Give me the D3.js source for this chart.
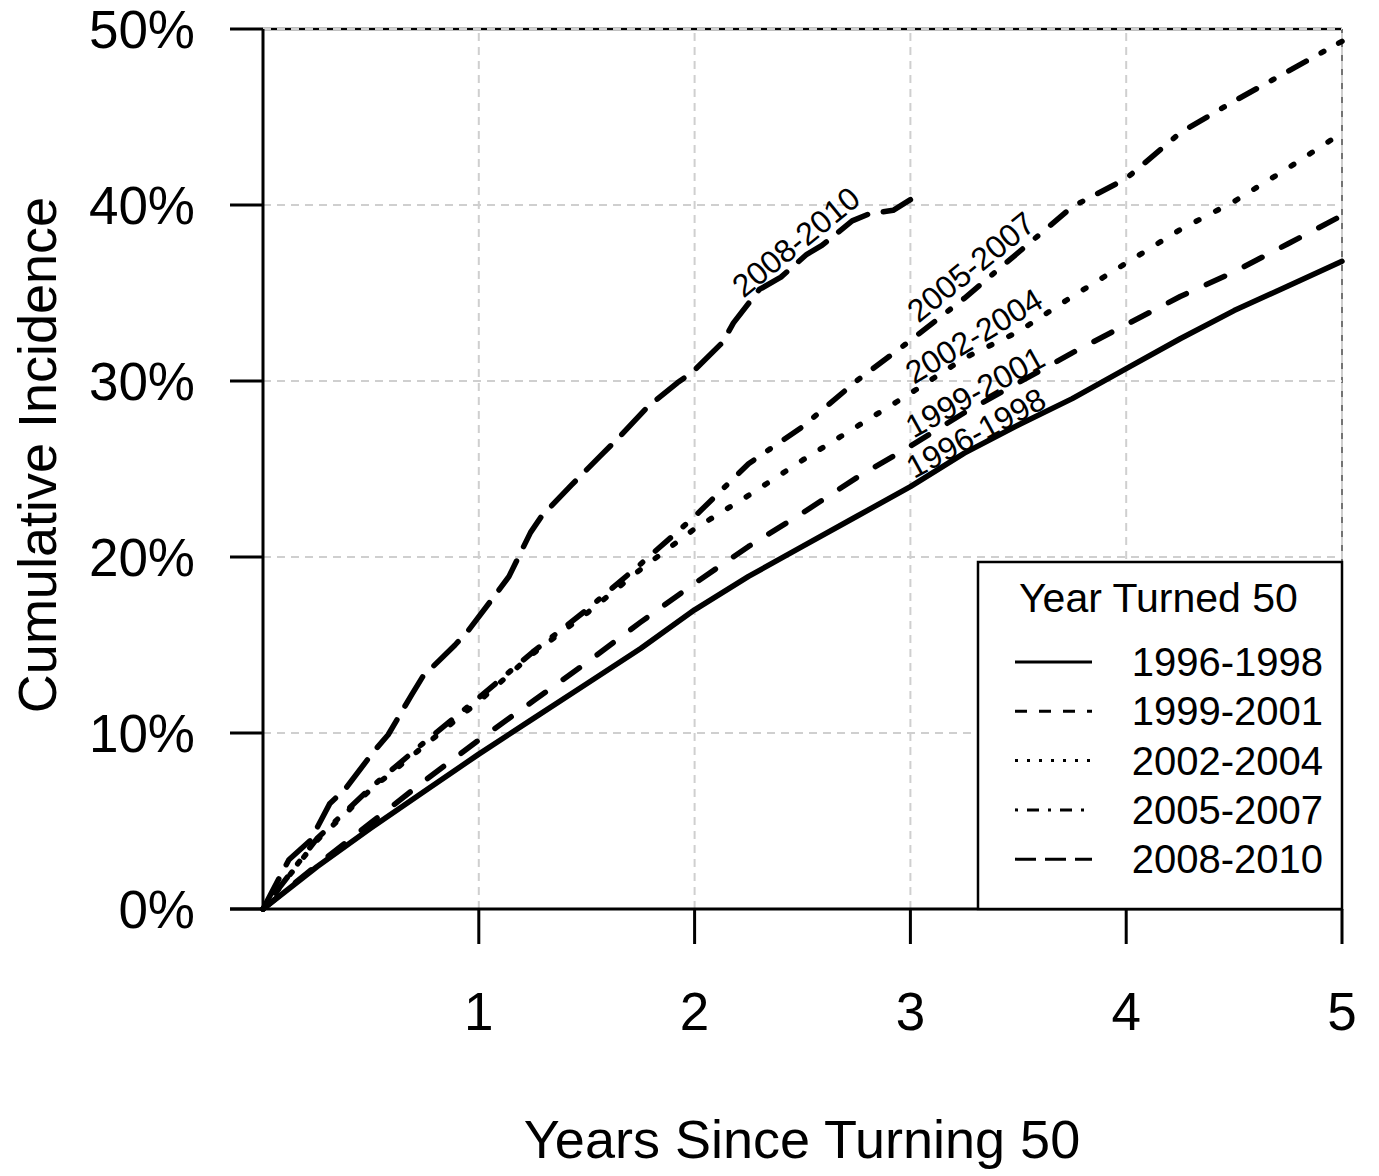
<!DOCTYPE html>
<html>
<head>
<meta charset="utf-8">
<script src="https://cdn.jsdelivr.net/npm/d3@7"></script>
<style>
  body { margin: 0; background: #fff; }
  text { font-family: Arial, "Liberation Sans", sans-serif; fill: #000; }
</style>
</head>
<body>
<div id="chart"></div>
<script>
// data (cumulative incidence, %)
var years = [0, 0.25, 0.5, 0.75, 1, 1.25, 1.5, 1.75, 2, 2.25, 2.5, 2.75, 3, 3.25, 3.5, 3.75, 4, 4.25, 4.5, 4.75, 5];
var inc9698 = [0, 2.4, 4.6, 6.7, 8.8, 10.8, 12.8, 14.8, 17.0, 18.9, 20.6, 22.3, 24.0, 25.9, 27.5, 29.0, 30.7, 32.4, 34.0, 35.4, 36.8];
var inc9901 = [0, 2.5, 4.9, 7.3, 9.6, 11.8, 14.0, 16.3, 18.5, 20.6, 22.5, 24.5, 26.3, 28.2, 29.9, 31.6, 33.2, 34.8, 36.2, 37.8, 39.4];
var inc0204 = [0, 3.9, 6.8, 9.3, 11.8, 14.5, 16.8, 19.3, 21.6, 23.5, 25.5, 27.4, 29.3, 31.3, 32.8, 34.8, 36.7, 38.6, 40.2, 42.1, 44.1];
var inc0507 = [0, 4.0, 6.9, 9.5, 12.0, 14.6, 17.0, 19.6, 22.3, 25.3, 27.4, 30.0, 32.3, 34.7, 37.3, 39.9, 41.5, 44.1, 45.9, 47.6, 49.3];
var years0810 = [0, 0.12, 0.22, 0.31, 0.38, 0.51, 0.58, 0.69, 0.74, 0.89, 0.95, 1.08, 1.14, 1.24, 1.29, 1.43, 1.56, 1.65, 1.78, 1.92, 1.99, 2.13, 2.18, 2.30, 2.40, 2.52, 2.59, 2.73, 2.81, 2.92, 3.0];
var inc0810 = [0, 2.8, 3.9, 6.0, 6.8, 8.9, 9.9, 12.2, 13.2, 15.0, 15.8, 17.9, 18.9, 21.4, 22.3, 24.1, 25.7, 26.8, 28.5, 29.9, 30.5, 32.2, 33.3, 35.2, 35.9, 37.2, 37.7, 39.1, 39.5, 39.7, 40.3];

var cohorts = ["1996-1998", "1999-2001", "2002-2004", "2005-2007", "2008-2010"];
var xTicks = [1, 2, 3, 4, 5];
var yTicks = [0, 10, 20, 30, 40, 50];

var width = 1379;
var height = 1176;

var svg = d3.select("#chart")
    .append("svg")
    .attr("width", width)
    .attr("height", height);

var x = d3.scaleLinear().domain([0, 5]).range([263, 1342]);
var y = d3.scaleLinear().domain([0, 50]).range([909, 29]);

// series table
var series = [
    {name: cohorts[0], xs: years, ys: inc9698, dash: null, legDash: null},
    {name: cohorts[1], xs: years, ys: inc9901, dash: "20,22", legDash: "12,12"},
    {name: cohorts[2], xs: years, ys: inc0204, dash: "3,19", legDash: "3,9"},
    {name: cohorts[3], xs: years, ys: inc0507, dash: "3,17,20,17", legDash: "3,9,12,9"},
    {name: cohorts[4], xs: years0810, ys: inc0810, dash: "34,16", legDash: "21,9"}
];

// grid
var grid = svg.append("g");
grid.append("line")
    .attr("x1", x(0)).attr("x2", x(5))
    .attr("y1", y(50)).attr("y2", y(50))
    .style("stroke", "#000").style("stroke-width", 2.5);
grid.append("line")
    .attr("x1", x(5)).attr("x2", x(5))
    .attr("y1", y(50)).attr("y2", y(0))
    .style("stroke", "#444").style("stroke-width", 1.5);

grid.selectAll(".vgrid")
    .data(xTicks)
    .enter()
    .append("line")
    .attr("x1", function (d) { return x(d); })
    .attr("x2", function (d) { return x(d); })
    .attr("y1", y(0))
    .attr("y2", y(50))
    .style("stroke", "#cfcfcf")
    .style("stroke-width", 2)
    .style("stroke-dasharray", "8,6");

grid.selectAll(".hgrid")
    .data(yTicks.slice(1))
    .enter()
    .append("line")
    .attr("x1", x(0))
    .attr("x2", x(5))
    .attr("y1", function (d) { return y(d); })
    .attr("y2", function (d) { return y(d); })
    .style("stroke", "#cfcfcf")
    .style("stroke-width", 2)
    .style("stroke-dasharray", "8,6");

// curves
var line = d3.line()
    .x(function (d) { return x(d[0]); })
    .y(function (d) { return y(d[1]); });

series.forEach(function (s) {
    var pts = s.xs.map(function (v, i) { return [v, s.ys[i]]; });
    svg.append("path")
        .datum(pts)
        .attr("d", line)
        .style("fill", "none")
        .style("stroke", "#000")
        .style("stroke-width", 5.5)
        .style("stroke-linecap", "round")
        .style("stroke-linejoin", "round")
        .style("stroke-dasharray", s.dash);
});

// curve labels
var curveLabels = [
    {name: cohorts[4], cx: 796, cy: 242, angle: -39},
    {name: cohorts[3], cx: 971, cy: 267, angle: -39},
    {name: cohorts[2], cx: 974, cy: 336, angle: -31},
    {name: cohorts[1], cx: 975, cy: 392, angle: -29},
    {name: cohorts[0], cx: 976, cy: 433, angle: -28.5}
];

svg.selectAll(".curveLabel")
    .data(curveLabels)
    .enter()
    .append("text")
    .attr("class", "curveLabel")
    .attr("transform", function (d) {
        return "translate(" + d.cx + "," + d.cy + ") rotate(" + d.angle + ")";
    })
    .attr("text-anchor", "middle")
    .attr("dominant-baseline", "central")
    .style("font-size", "32px")
    .text(function (d) { return d.name; });

// axes
var axes = svg.append("g");
axes.append("line")
    .attr("x1", x(0)).attr("x2", x(0))
    .attr("y1", y(50)).attr("y2", y(0))
    .style("stroke", "#000").style("stroke-width", 3);
axes.append("line")
    .attr("x1", 230).attr("x2", x(5))
    .attr("y1", y(0)).attr("y2", y(0))
    .style("stroke", "#000").style("stroke-width", 3);

axes.selectAll(".yTick")
    .data(yTicks)
    .enter()
    .append("line")
    .attr("x1", 230).attr("x2", x(0))
    .attr("y1", function (d) { return y(d); })
    .attr("y2", function (d) { return y(d); })
    .style("stroke", "#000").style("stroke-width", 3);

axes.selectAll(".yLabel")
    .data(yTicks)
    .enter()
    .append("text")
    .attr("x", 195)
    .attr("y", function (d) { return y(d); })
    .attr("text-anchor", "end")
    .attr("dominant-baseline", "central")
    .style("font-size", "53px")
    .text(function (d) { return d + "%"; });

axes.selectAll(".xTick")
    .data(xTicks)
    .enter()
    .append("line")
    .attr("x1", function (d) { return x(d); })
    .attr("x2", function (d) { return x(d); })
    .attr("y1", y(0)).attr("y2", 944)
    .style("stroke", "#000").style("stroke-width", 3);

axes.selectAll(".xLabel")
    .data(xTicks)
    .enter()
    .append("text")
    .attr("x", function (d) { return x(d); })
    .attr("y", 1030)
    .attr("text-anchor", "middle")
    .style("font-size", "53px")
    .text(function (d) { return d; });

svg.append("text")
    .attr("x", 802)
    .attr("y", 1158)
    .attr("text-anchor", "middle")
    .style("font-size", "54px")
    .text("Years Since Turning 50");

svg.append("text")
    .attr("transform", "translate(56, 455) rotate(-90)")
    .attr("text-anchor", "middle")
    .style("font-size", "54px")
    .text("Cumulative Incidence");

// legend
var legend = svg.append("g");
legend.append("rect")
    .attr("x", 978).attr("y", 562)
    .attr("width", 1342 - 978).attr("height", 909 - 562)
    .style("fill", "#fff")
    .style("stroke", "#000")
    .style("stroke-width", 2.5);

legend.append("text")
    .attr("x", 1019)
    .attr("y", 612)
    .style("font-size", "41px")
    .text("Year Turned 50");

var rows = legend.selectAll(".legRow")
    .data(series)
    .enter()
    .append("g")
    .attr("transform", function (d, i) { return "translate(0," + (662 + i * 49.3) + ")"; });

rows.append("line")
    .attr("x1", 1015).attr("x2", 1092)
    .attr("y1", 0).attr("y2", 0)
    .style("stroke", "#000")
    .style("stroke-width", 3)
    .style("stroke-dasharray", function (d) { return d.legDash; });

rows.append("text")
    .attr("x", 1323)
    .attr("y", 0)
    .attr("text-anchor", "end")
    .attr("dominant-baseline", "central")
    .style("font-size", "40px")
    .text(function (d) { return d.name; });
</script>
</body>
</html>
